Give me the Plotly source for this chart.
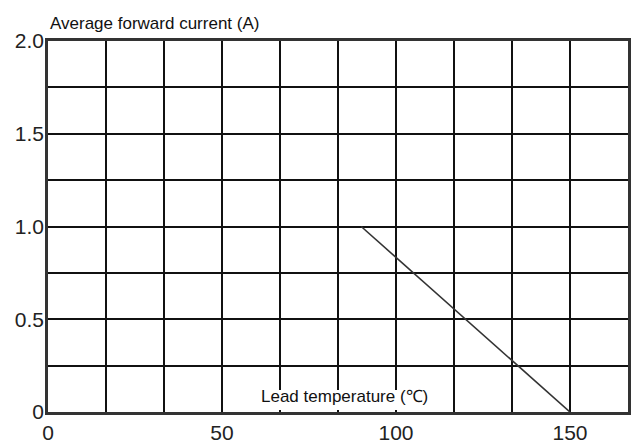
import plotly.graph_objects as go

# Data
lead_temp = [90, 150]          # °C
avg_current = [1.0, 0.0]       # A

x_tick_vals = [0, 50, 100, 150]
x_tick_text = ["0", "50", "100", "150"]
y_tick_vals = [0, 0.5, 1.0, 1.5, 2.0]
y_tick_text = ["0", "0.5", "1.0", "1.5", "2.0"]

x_title = "Lead temperature (℃)"
y_title = "Average forward current (A)"

x_max = 150 / 9 * 10
x_grid = [150 / 9 * i for i in range(1, 10)]
y_grid = [0.25 * i for i in range(1, 8)]
x_title_pos = 85.3

FONT = "Liberation Sans, Arial, sans-serif"

fig = go.Figure()
fig.add_trace(go.Scatter(
    x=lead_temp, y=avg_current, mode="lines",
    line=dict(color="#333333", width=1.6), showlegend=False, hoverinfo="skip"))

fig.update_layout(
    width=635, height=443,
    margin=dict(l=48, r=7, t=41, b=31),
    paper_bgcolor="white", plot_bgcolor="white",
    font=dict(family=FONT, color="#111111"),
    showlegend=False,
)

fig.update_xaxes(
    range=[0, x_max], tickvals=x_tick_vals, ticktext=x_tick_text,
    tickfont=dict(size=21, family=FONT, color="#222222"),
    showgrid=False, zeroline=False, automargin=False,
    ticks="", ticklabelstandoff=0,
    showline=True, linecolor="#333333", linewidth=2.5, mirror=True,
    minor=dict(tickvals=x_grid, showgrid=True, gridcolor="#111111", gridwidth=2, ticks=""),
    fixedrange=True,
)
fig.update_yaxes(
    range=[0, 2.0], tickvals=y_tick_vals, ticktext=y_tick_text,
    tickfont=dict(size=21, family=FONT, color="#222222"),
    showgrid=False, zeroline=False, automargin=False,
    ticks="", ticklabelstandoff=-3,
    showline=True, linecolor="#333333", linewidth=2.5, mirror=True,
    minor=dict(tickvals=y_grid, showgrid=True, gridcolor="#111111", gridwidth=2, ticks=""),
    fixedrange=True,
)

# white box behind the in-plot x title (covers grid lines)
fig.add_shape(
    type="rect", xref="x", yref="y",
    xsizemode="pixel", ysizemode="pixel",
    xanchor=x_title_pos, yanchor=0,
    x0=-90, x1=90, y0=2, y1=22,
    fillcolor="white", line=dict(width=0), layer="between",
)

# y-axis title at top-left
fig.add_annotation(
    text=y_title, xref="paper", yref="paper", x=0, y=1,
    xanchor="left", yanchor="middle", yshift=18, showarrow=False,
    font=dict(size=17, family=FONT, color="#111111"),
)
# x-axis title inside the plot
fig.add_annotation(
    text=x_title, xref="x", yref="y", x=x_title_pos, y=0,
    xanchor="center", yanchor="middle", yshift=16, showarrow=False,
    font=dict(size=17, family=FONT, color="#111111"),
)

fig.write_html(
    "out.html",
    config={"displayModeBar": False},
    post_script="document.body.style.margin='0';document.body.style.overflow='hidden';",
)
